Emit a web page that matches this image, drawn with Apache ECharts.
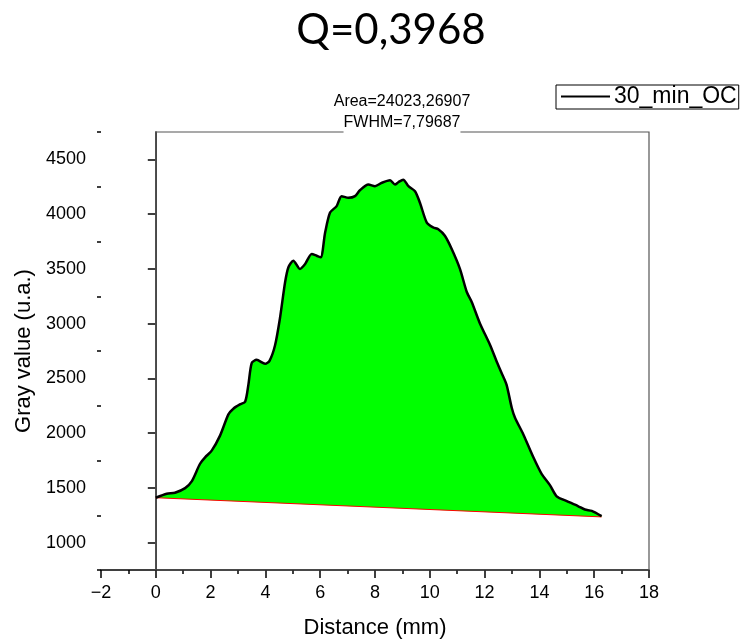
<!DOCTYPE html>
<html>
<head>
    <meta charset="UTF-8">
    <title>Q=0,3968</title>
    <script src="https://cdn.jsdelivr.net/npm/echarts@6.0.0/dist/echarts.min.js"></script>
    <style>
      html, body { margin: 0; padding: 0; background: #fff; }
      #container { width: 741px; height: 644px; }
    </style>
</head>
<body>
<div id="container"></div>
<script>
    // profile
    var distance = [0, 0.4, 0.7, 1.07, 1.31, 1.61, 1.8, 2.04, 2.34, 2.65, 2.83, 3.07, 3.26, 3.38, 3.5, 3.68,
        3.99, 4.15, 4.35, 4.53, 4.72, 4.84, 5.02, 5.26, 5.45, 5.69, 5.87, 6.02, 6.18, 6.36, 6.6, 6.78,
        7.03, 7.27, 7.45, 7.76, 8.0, 8.24, 8.55, 8.73, 8.85, 9.03, 9.22, 9.46, 9.64, 9.89, 10.13, 10.31,
        10.55, 10.8, 11.1, 11.35, 11.53, 11.83, 12.2, 12.44, 12.62, 12.8, 12.99, 13.11, 13.41, 13.78,
        14.08, 14.39, 14.63, 15.0, 15.42, 15.66, 15.91, 16.27]
    var gray = [1410, 1447, 1456, 1498, 1559, 1718, 1779, 1840, 1975, 2171, 2223, 2262, 2286, 2443, 2640, 2669,
        2633, 2660, 2800, 3047, 3380, 3515, 3575, 3500, 3545, 3636, 3620, 3606, 3832, 4014, 4073, 4164,
        4149, 4164, 4218, 4270, 4255, 4285, 4309, 4270, 4291, 4315, 4255, 4209, 4104, 3923, 3878, 3862,
        3802, 3681, 3500, 3289, 3198, 3002, 2805, 2655, 2549, 2443, 2232, 2141, 1990, 1779,
        1628, 1523, 1423, 1380, 1332, 1302, 1290, 1242]
    // straight baseline under the peak
    var baseX = [0, 16.27]
    var baseY = [1410, 1235]

    var xTicks = [-2, 0, 2, 4, 6, 8, 10, 12, 14, 16, 18]
    var yTicks = [1000, 1500, 2000, 2500, 3000, 3500, 4000, 4500]
    var yMinorTicks = [750, 1250, 1750, 2250, 2750, 3250, 3750, 4250, 4750]

    var curve = distance.map(function (d, i) { return [d, gray[i]] })
    var base = baseX.map(function (d, i) { return [d, baseY[i]] })

    var font = 'Liberation Sans, Arial, sans-serif'
    var myChart = echarts.init(document.getElementById('container'))

    var option = {
        animation: false,
        backgroundColor: '#fff',
        title: {
            text: 'Q=0,3968',
            left: 386,
            top: 4,
            textAlign: 'center',
            textStyle: { fontFamily: 'Lato', fontSize: 42, fontWeight: 'normal', color: '#000' }
        },
        legend: {
            left: 556,
            top: 85,
            data: [{ name: '30_min_OC', icon: 'rect' }],
            itemWidth: 49,
            itemHeight: 2,
            itemGap: 0,
            padding: [0, 2, 1, 5],
            borderColor: '#000',
            borderWidth: 1,
            textStyle: { fontFamily: font, fontSize: 23, color: '#000', lineHeight: 22, padding: [0, 0, 0, -1] }
        },
        graphic: [
            {
                type: 'text', x: 402, y: 102, z: 100,
                style: { text: 'Area=24023,26907', font: '16px ' + font, fill: '#000', align: 'center', verticalAlign: 'middle' }
            },
            {
                type: 'text', x: 402, y: 123, z: 100,
                style: {
                    text: 'FWHM=7,79687', font: '16px ' + font, fill: '#000', align: 'center', verticalAlign: 'middle',
                    backgroundColor: '#fff', padding: [1, 0, 3, 0]
                }
            }
        ],
        grid: { left: 101, right: 92, top: 132, bottom: 70 },
        xAxis: {
            type: 'value',
            min: -2,
            max: 18,
            interval: 2,
            name: 'Distance (mm)',
            nameLocation: 'middle',
            nameGap: 47,
            nameTextStyle: { fontFamily: font, fontSize: 22, color: '#000' },
            axisLine: { lineStyle: { color: '#000', width: 1.5 } },
            axisTick: { inside: false, length: 8, lineStyle: { color: '#000', width: 1.5 } },
            minorTick: { show: true, splitNumber: 2, length: 4, lineStyle: { color: '#000', width: 1.5 } },
            axisLabel: {
                margin: 14, fontFamily: font, fontSize: 18, color: '#000',
                customValues: xTicks,
                formatter: function (v) { return v < 0 ? '\u2212' + Math.abs(v) : String(v) }
            },
            splitLine: { show: false }
        },
        yAxis: [
            {
                type: 'value',
                min: 750,
                max: 4750,
                name: 'Gray value (u.a.)',
                nameLocation: 'middle',
                nameGap: 46,
                nameTextStyle: { fontFamily: font, fontSize: 22, color: '#000' },
                axisLine: { lineStyle: { color: '#000', width: 1.5 } },
                axisTick: { inside: false, length: 8, customValues: yTicks, lineStyle: { color: '#000', width: 1.5 } },
                axisLabel: {
                    margin: 15, fontFamily: font, fontSize: 18, color: '#000', customValues: yTicks,
                    formatter: function (v) { return String(v) }
                },
                splitLine: { show: false }
            },
            {
                // only for the short minor ticks
                type: 'value',
                position: 'left',
                min: 750,
                max: 4750,
                axisLine: { show: false },
                axisTick: { inside: false, length: 4, customValues: yMinorTicks, lineStyle: { color: '#000', width: 1.5 } },
                axisLabel: { show: false },
                splitLine: { show: false }
            }
        ],
        series: [
            {
                // green filled area between curve and baseline
                type: 'custom',
                silent: true,
                data: [[0, 1410]],
                renderItem: function (params, api) {
                    var pts = curve.map(function (p) { return api.coord(p) })
                    pts.push(api.coord(base[1]))
                    pts.push(api.coord(base[0]))
                    return { type: 'polygon', shape: { points: pts }, style: { fill: '#00ff00' } }
                },
                z: 1
            },
            {
                name: 'baseline',
                type: 'line',
                data: base,
                showSymbol: false,
                lineStyle: { color: '#ff0000', width: 1 },
                markArea: {
                    silent: true,
                    itemStyle: { color: 'rgba(0,0,0,0)', borderColor: '#555', borderWidth: 1.2 },
                    data: [[{ coord: [0, 4750] }, { coord: [18, 750] }]]
                },
                z: 2
            },
            {
                name: '30_min_OC',
                type: 'line',
                data: curve,
                showSymbol: false,
                smooth: 0.25,
                color: '#000',
                lineStyle: { color: '#000', width: 2.5 },
                z: 3
            }
        ]
    }
    myChart.setOption(option)
</script>
</body>
</html>
